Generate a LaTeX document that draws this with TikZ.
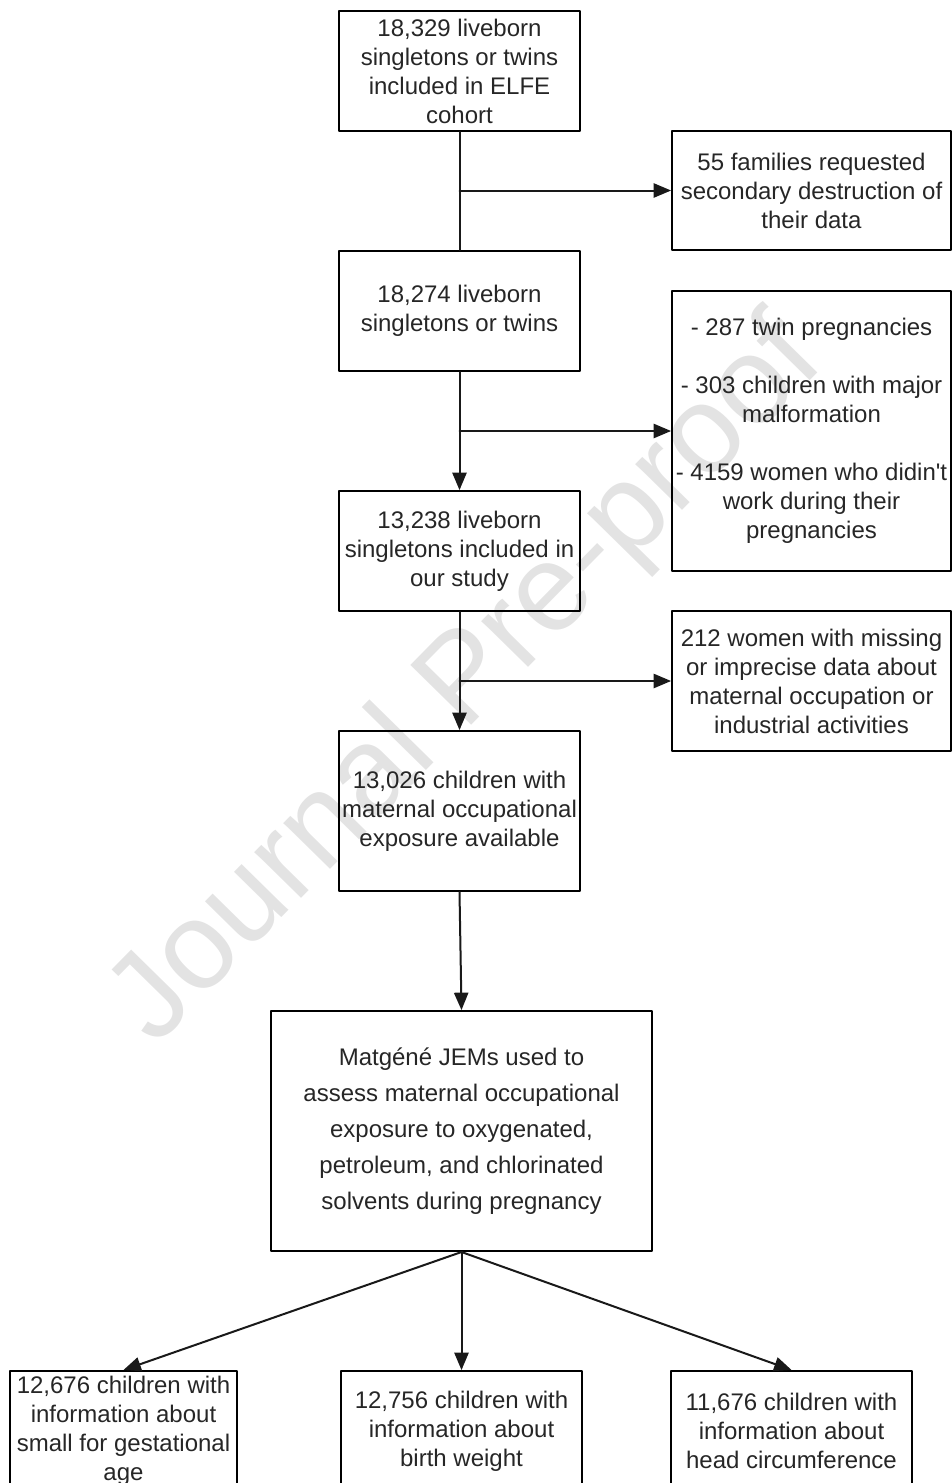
\documentclass[tikz,border=0pt]{standalone}
\usepackage{fontspec}
\setmainfont{Liberation Sans}
\usetikzlibrary{arrows}

\begin{document}
\begin{tikzpicture}[line cap=round,line join=round,>=triangle 45,x=0.5pt,y=-0.5pt,
	box/.style={draw=black,line width=1pt,align=center,inner sep=0pt,text=black!85,font=\fontsize{12}{14.5}\selectfont},
	mainbox/.style={box,minimum width=120.5pt,minimum height=60pt},
	sidebox/.style={box,minimum width=139.5pt,minimum height=59.5pt},
	jembox/.style={box,minimum width=190.5pt,minimum height=120pt,font=\fontsize{12}{18}\selectfont},
	endbox/.style={box,minimum width=120.5pt,minimum height=60pt},
	link/.style={line width=1pt,draw=black!90}]
	\clip (0,0) rectangle (952,1483);
	\node[rotate=45.5,text=black!11,font=\fontsize{62}{62}\selectfont] (wm) at (468,683) {Journal Pre-proof};
	\node[mainbox] (cohort) at (459.5,71) {18,329 liveborn\\singletons or twins\\included in ELFE\\cohort};
	\node[sidebox] (destr) at (811.5,190.5) {55 families requested\\secondary destruction of\\their data};
	\node[mainbox] (born) at (459.5,311) {18,274 liveborn\\singletons or twins};
	\node[sidebox,minimum height=140pt] (excl) at (811.5,431) {- 287 twin pregnancies\\[14.5pt]- 303 children with major\\malformation\\[14.5pt]- 4159 women who didin\textquotesingle t\\work during their\\pregnancies};
	\node[mainbox] (study) at (459.5,551) {13,238 liveborn\\singletons included in\\our study};
	\node[sidebox,minimum height=70pt] (miss) at (811.5,681) {212 women with missing\\or imprecise data about\\maternal occupation or\\industrial activities};
	\node[mainbox,minimum height=80pt] (expo) at (459.5,811) {13,026 children with\\maternal occupational\\exposure available};
	\node[jembox] (jem) at (461.5,1131) {Matgéné JEMs used to\\assess maternal occupational\\exposure to oxygenated,\\petroleum, and chlorinated\\solvents during pregnancy};
	\node[endbox,minimum width=113.5pt] (sga) at (123.5,1431) {12,676 children with\\information about\\small for gestational\\age};
	\node[endbox] (bw) at (461.5,1431) {12,756 children with\\information about\\birth weight};
	\node[endbox] (hc) at (791.5,1431) {11,676 children with\\information about\\head circumference};
	\draw[link] (cohort) -- (born);
	\draw[link,->] (cohort.south |- destr.west) -- (destr.west);
	\draw[link,->] (born) -- (study);
	\draw[link,->] (born.south |- excl.west) -- (excl.west);
	\draw[link,->] (study) -- (expo);
	\draw[link,->] (study.south |- miss.west) -- (miss.west);
	\draw[link,->] (expo.south) -- (jem.north);
	\draw[link,->] (jem.south) -- (sga.north);
	\draw[link,->] (jem.south) -- (bw.north);
	\draw[link,->] (jem.south) -- (hc.north);
\end{tikzpicture}
\end{document}
